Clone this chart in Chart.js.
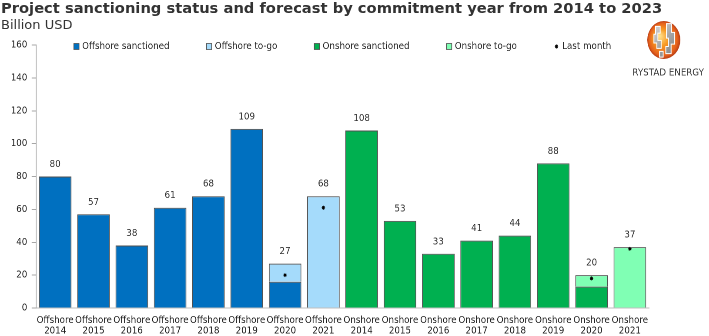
<!DOCTYPE html>
<html>
<head>
<meta charset="utf-8">
<script src="https://cdn.jsdelivr.net/npm/chart.js@4"></script>
<style>
  html, body { margin: 0; padding: 0; background: #fff; }
  body { width: 709px; height: 336px; overflow: hidden; position: relative; font-family: 'DejaVu Sans', sans-serif; color: #333; }
  /* the chart block is drawn wide and squeezed horizontally */
  #squeeze { position: absolute; left: 0; top: 0; width: 815px; height: 336px; transform: scaleX(0.87); transform-origin: 0 0; }
  #title { position: absolute; left: 1px; top: -1px; font-weight: bold; font-size: 14.7px; white-space: nowrap; z-index: 2; }
  #subtitle { position: absolute; left: 1px; top: 17px; font-size: 13px; white-space: nowrap; z-index: 2; }
</style>
</head>
<body>
<div id="squeeze"><canvas id="chart"></canvas></div>
<div id="title">Project sanctioning status and forecast by commitment year from 2014 to 2023</div>
<div id="subtitle">Billion USD</div>
<script>
const categories = [
  ['Offshore', '2014'], ['Offshore', '2015'], ['Offshore', '2016'], ['Offshore', '2017'],
  ['Offshore', '2018'], ['Offshore', '2019'], ['Offshore', '2020'], ['Offshore', '2021'],
  ['Onshore', '2014'], ['Onshore', '2015'], ['Onshore', '2016'], ['Onshore', '2017'],
  ['Onshore', '2018'], ['Onshore', '2019'], ['Onshore', '2020'], ['Onshore', '2021']
];
const offshoreSanctioned = [80, 57, 38, 61, 68, 109, 16, null, null, null, null, null, null, null, null, null];
const offshoreToGo      = [null, null, null, null, null, null, 11, 68, null, null, null, null, null, null, null, null];
const onshoreSanctioned = [null, null, null, null, null, null, null, null, 108, 53, 33, 41, 44, 88, 13, null];
const onshoreToGo       = [null, null, null, null, null, null, null, null, null, null, null, null, null, null, 7, 37];
const lastMonth         = [null, null, null, null, null, null, 20, 61, null, null, null, null, null, null, 18, 36];
const yTicks = { min: 0, max: 160, step: 20 };

Chart.defaults.font.family = "'DejaVu Sans', sans-serif";

const BORDER = '#505050';

// totals above each stacked column
const totalsPlugin = {
  id: 'totals',
  afterDatasetsDraw(chart) {
    const ctx = chart.ctx;
    const xs = chart.scales.x, ys = chart.scales.y;
    const bars = chart.data.datasets.filter(d => d.type !== 'line');
    ctx.save();
    ctx.font = "10px 'DejaVu Sans'";
    ctx.fillStyle = '#333';
    ctx.textAlign = 'center';
    ctx.textBaseline = 'alphabetic';
    categories.forEach((c, i) => {
      let total = 0;
      bars.forEach(d => { total += d.data[i] || 0; });
      if (!total) return;
      ctx.fillText(String(total), xs.getPixelForValue(i), ys.getPixelForValue(total) - 9.5);
    });
    ctx.restore();
  }
};

// legend row inside the plot area
const legendRow = {
  id: 'legendRow',
  afterDraw(chart) {
    const ctx = chart.ctx;
    const area = chart.chartArea;
    const box = 6, gap = 3.5, spacing = 42.5;
    ctx.save();
    ctx.font = "10px 'DejaVu Sans'";
    const items = chart.data.datasets.slice().sort((a, b) => a.legendIndex - b.legendIndex);
    const widths = items.map(d => box + gap + ctx.measureText(d.label).width);
    const total = widths.reduce((a, b) => a + b, 0) + spacing * (items.length - 1);
    let x = (area.left + area.right) / 2 - total / 2;
    const y = area.top + 1.5;
    items.forEach((d, k) => {
      if (d.type === 'line') {
        ctx.strokeStyle = '#000';
        Chart.helpers.drawPoint(ctx, { pointStyle: 'star', radius: 2, rotation: 0, borderWidth: 0.8 }, x + box / 2, y);
      } else {
        ctx.fillStyle = d.backgroundColor;
        ctx.fillRect(x, y - box / 2, box, box);
        ctx.strokeStyle = BORDER;
        ctx.lineWidth = 0.8;
        ctx.strokeRect(x, y - box / 2, box, box);
      }
      ctx.fillStyle = '#262626';
      ctx.textAlign = 'left';
      ctx.textBaseline = 'middle';
      ctx.fillText(d.label, x + box + gap, y);
      x += widths[k] + spacing;
    });
    ctx.restore();
  }
};

// company mark, top right
const logoPlugin = {
  id: 'logo',
  afterDraw(chart) {
    const ctx = chart.ctx;
    const cx = 763, cy = 40, r = 19;
    ctx.save();
    const g = ctx.createRadialGradient(cx - 5, cy - 4, 1, cx, cy, r);
    g.addColorStop(0, '#ffe08a');
    g.addColorStop(0.4, '#f89a24');
    g.addColorStop(0.85, '#e5601c');
    g.addColorStop(1, '#b83e16');
    ctx.beginPath();
    ctx.arc(cx, cy, r, 0, Math.PI * 2);
    ctx.fillStyle = g;
    ctx.fill();
    ctx.clip();
    const gray = ctx.createLinearGradient(cx - r, cy - r, cx + r, cy + r);
    gray.addColorStop(0, '#ededed');
    gray.addColorStop(0.5, '#a8a8a8');
    gray.addColorStop(1, '#767676');
    ctx.fillStyle = gray;
    ctx.strokeStyle = '#fff';
    ctx.lineWidth = 1;
    const shapes = [
      [[-0.5, -0.72], [-0.22, -0.72], [-0.22, -0.36], [-0.36, -0.36], [-0.36, 0.02], [-0.16, 0.02], [-0.16, 0.44], [-0.42, 0.44], [-0.42, 0.16], [-0.6, 0.16], [-0.6, -0.3], [-0.5, -0.3]],
      [[0.16, -0.86], [0.46, -0.86], [0.46, -0.4], [0.66, -0.4], [0.66, 0.22], [0.44, 0.22], [0.44, 0.72], [0.12, 0.72], [0.12, 0.34], [0.28, 0.34], [0.28, -0.1], [0.16, -0.1]],
      [[-0.26, 0.6], [-0.04, 0.6], [-0.04, 0.9], [-0.26, 0.9]]
    ];
    shapes.forEach(s => {
      ctx.beginPath();
      s.forEach((p, k) => {
        const px = cx + p[0] * r, py = cy + p[1] * r;
        if (k === 0) ctx.moveTo(px, py); else ctx.lineTo(px, py);
      });
      ctx.closePath();
      ctx.fill();
      ctx.stroke();
    });
    ctx.restore();
    ctx.save();
    ctx.font = "10px 'DejaVu Sans'";
    ctx.fillStyle = '#3a3a3a';
    ctx.textAlign = 'center';
    ctx.textBaseline = 'middle';
    ctx.fillText('RYSTAD ENERGY', 768, 73);
    ctx.restore();
  }
};

const barStyle = { borderColor: BORDER, borderWidth: 1, barPercentage: 0.85, categoryPercentage: 1, stack: 'main', order: 1 };

new Chart(document.getElementById('chart'), {
  type: 'bar',
  data: {
    labels: categories,
    datasets: [
      Object.assign({ label: 'Offshore sanctioned', data: offshoreSanctioned, backgroundColor: '#0070c0', legendIndex: 0 }, barStyle),
      Object.assign({ label: 'Offshore to-go', data: offshoreToGo, backgroundColor: '#a5dbfb', legendIndex: 1 }, barStyle),
      Object.assign({ label: 'Onshore sanctioned', data: onshoreSanctioned, backgroundColor: '#00b050', legendIndex: 2 }, barStyle),
      Object.assign({ label: 'Onshore to-go', data: onshoreToGo, backgroundColor: '#80ffb4', legendIndex: 3 }, barStyle),
      {
        type: 'line', label: 'Last month', data: lastMonth, legendIndex: 4,
        showLine: false, stack: 'lm', order: 0,
        pointStyle: 'star', pointRadius: 2, pointBorderWidth: 0.8,
        borderColor: '#000', backgroundColor: '#000'
      }
    ]
  },
  options: {
    responsive: true,
    maintainAspectRatio: false,
    animation: false,
    devicePixelRatio: 2,
    layout: { padding: { top: 45, right: 69, bottom: 0, left: 0 } },
    plugins: { legend: { display: false }, tooltip: { enabled: false } },
    scales: {
      x: {
        stacked: true,
        grid: { display: false, drawTicks: false },
        border: { color: '#bfbfbf' },
        ticks: { autoSkip: false, maxRotation: 0, minRotation: 0, padding: 7, color: '#1e1e1e', font: { size: 10, lineHeight: 1.05 } },
        afterFit(s) { s.height = 28; }
      },
      y: {
        stacked: true,
        min: yTicks.min,
        max: yTicks.max,
        ticks: { stepSize: yTicks.step, padding: 5, color: '#262626', font: { size: 10 } },
        grid: { drawOnChartArea: false, tickLength: 5, color: '#a6a6a6' },
        border: { color: '#a6a6a6' },
        afterFit(s) { s.width = 41.4; }
      }
    }
  },
  plugins: [totalsPlugin, legendRow, logoPlugin]
});
</script>
</body>
</html>
